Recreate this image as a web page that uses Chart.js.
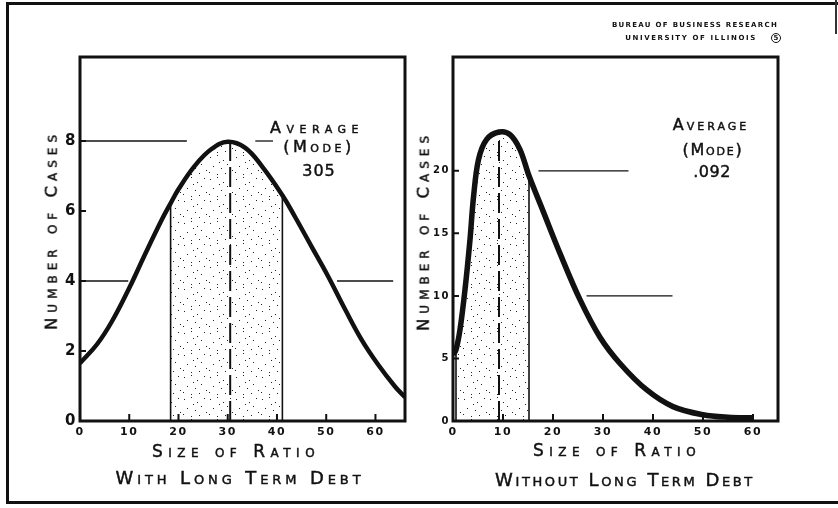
<!DOCTYPE html>
<html>
<head>
<meta charset="utf-8">
<script src="https://cdn.jsdelivr.net/npm/chart.js@4"></script>
<style>
  html, body { margin: 0; padding: 0; background: #fff; }
  body { width: 838px; height: 508px; position: relative; overflow: hidden; color: #111; font-family: "DejaVu Sans", sans-serif; }
  .frame { position: absolute; left: 6px; top: 2px; width: 850px; height: 502px; box-sizing: border-box; border: 3px solid #111; border-right: none; }
  .edge { position: absolute; left: 835px; top: 0; width: 2px; height: 34px; background: #333; }
  canvas { position: absolute; top: 0; }
  #withChart { left: 0; }
  #withoutChart { left: 410px; }
  .lbl, .vlbl { -webkit-text-stroke: 0.45px #111; }
  .lbl { position: absolute; width: 360px; margin-left: -180px; text-align: center; line-height: 1; white-space: nowrap; font-variant: small-caps; transform: translateY(-50%); }
  .vlbl { position: absolute; line-height: 1; white-space: nowrap; font-variant: small-caps; transform: translate(-50%, -50%) rotate(-90deg); }
  .head { position: absolute; width: 240px; margin-left: -120px; text-align: center; line-height: 1; white-space: nowrap; font-size: 7px; font-weight: bold; transform: translateY(-50%); }
  .circ { position: absolute; left: 771px; top: 33px; width: 8px; height: 8px; border: 1.5px solid #111; border-radius: 50%; font-size: 7px; font-weight: bold; line-height: 8px; text-align: center; }
</style>
</head>
<body>
<div class="frame"></div>
<div class="edge"></div>
<canvas id="withChart" width="420" height="508"></canvas>
<canvas id="withoutChart" width="428" height="508"></canvas>

<div class="head" style="left:695px; top:25px; letter-spacing:1.3px;">BUREAU OF BUSINESS RESEARCH</div>
<div class="head" style="left:691px; top:38px; letter-spacing:1.6px;">UNIVERSITY OF ILLINOIS</div>
<div class="circ">5</div>

<div class="vlbl" style="left:52px; top:230px; font-size:16.5px; letter-spacing:5px;">Number of Cases</div>
<div class="vlbl" style="left:424px; top:231px; font-size:16.5px; letter-spacing:5px;">Number of Cases</div>
<div class="lbl" style="left:236px; top:451px; font-size:17px; letter-spacing:5.5px;">Size of Ratio</div>
<div class="lbl" style="left:617px; top:450px; font-size:17px; letter-spacing:5.5px;">Size of Ratio</div>
<div class="lbl" style="left:240px; top:478px; font-size:18px; letter-spacing:3.9px;">With Long Term Debt</div>
<div class="lbl" style="left:625px; top:480px; font-size:18px; letter-spacing:2.6px;">Without Long Term Debt</div>

<div class="lbl" style="left:317px; top:128px; font-size:16px; letter-spacing:5.5px;">Average</div>
<div class="lbl" style="left:319px; top:147px; font-size:16px; letter-spacing:3.5px;">(Mode)</div>
<div class="lbl" style="left:319px; top:171px; font-size:16px; letter-spacing:1px;">305</div>
<div class="lbl" style="left:711px; top:125px; font-size:16px; letter-spacing:3px;">Average</div>
<div class="lbl" style="left:713px; top:150px; font-size:16px; letter-spacing:1.8px;">(Mode)</div>
<div class="lbl" style="left:712px; top:172px; font-size:16px; letter-spacing:0.5px;">.092</div>

<script>
// size of ratio (hundredths) on the x axes
var sizeTicks = [0, 10, 20, 30, 40, 50, 60];

// with long term debt
var withRatio = [0, 3.5, 6.5, 10, 13, 16.5, 18.4, 20, 23.3, 26.7, 30, 33.5, 37, 41.1, 43.6, 47, 50.4, 53.8, 57.2, 60.6, 64, 66];
var withCases = [1.65, 2.2, 2.85, 3.8, 4.7, 5.72, 6.22, 6.62, 7.29, 7.77, 7.98, 7.81, 7.27, 6.45, 5.85, 4.99, 4.13, 3.2, 2.32, 1.6, 0.98, 0.68];
var withCaseTicks = [0, 2, 4, 6, 8];
var withShade = [18.4, 41.1];
var withMode = 30.5;
// [cases, from ratio, to ratio]
var withGuides = [[8, 0.4, 21.7], [8, 35.6, 39.2], [4, 0.4, 9.8], [4, 52.2, 63.6]];

// without long term debt
var withoutRatio = [0, 0.6, 1.4, 2.4, 3.4, 4.1, 5.1, 6.7, 9.2, 11.4, 13.4, 15.2, 18, 21.4, 25.4, 29.4, 33.4, 38.7, 44, 50, 55, 60];
var withoutCases = [5.3, 5.7, 7.3, 10.5, 14.5, 17.9, 20.9, 22.5, 23.1, 22.9, 21.7, 19.6, 16.8, 13.4, 9.7, 6.7, 4.6, 2.5, 1.15, 0.5, 0.3, 0.25];
var withoutCaseTicks = [0, 5, 10, 15, 20];
var withoutShade = [0.6, 15.2];
var withoutMode = 9.2;
var withoutGuides = [[20, 17.1, 35.1], [10, 26.7, 43.9]];

var INK = "#111";

function stipple() {
  var c = document.createElement("canvas");
  c.width = 26;
  c.height = 22;
  var g = c.getContext("2d");
  g.fillStyle = "#fff";
  g.fillRect(0, 0, 26, 22);
  g.fillStyle = "#222";
  var dots = [[2, 3], [9, 1], [15, 6], [22, 2], [5, 12], [13, 14], [19, 10], [24, 16], [1, 18], [9, 20], [17, 19], [11, 8]];
  dots.forEach(function (d) { g.fillRect(d[0], d[1], 1, 1); });
  return g.createPattern(c, "repeat");
}

// spaced hand lettering for tick labels
var lettering = {
  id: "lettering",
  beforeDraw: function (chart) { chart.ctx.letterSpacing = "1.5px"; },
};

// heavy box round the plot and short ticks pointing inward
var frameAndTicks = {
  id: "frameAndTicks",
  afterDraw: function (chart) {
    var ctx = chart.ctx, a = chart.chartArea, x = chart.scales.x, y = chart.scales.y;
    ctx.save();
    ctx.strokeStyle = INK;
    ctx.lineWidth = 2;
    ctx.beginPath();
    x.ticks.forEach(function (t) {
      if (t.value > 0) {
        var px = x.getPixelForValue(t.value);
        ctx.moveTo(px, a.bottom);
        ctx.lineTo(px, a.bottom - 7);
      }
    });
    y.ticks.forEach(function (t) {
      if (t.value > 0) {
        var py = y.getPixelForValue(t.value);
        ctx.moveTo(a.left, py);
        ctx.lineTo(a.left + 6, py);
      }
    });
    ctx.stroke();
    ctx.lineWidth = 3;
    ctx.strokeRect(a.left, a.top, a.right - a.left, a.bottom - a.top);
    ctx.restore();
  },
};

function makeChart(id, o) {
  var pts = o.ratio.map(function (r, i) { return { x: r, y: o.cases[i] }; });
  var shadePts = pts.filter(function (p) { return p.x >= o.shade[0] && p.x <= o.shade[1]; });
  var peak = Math.max.apply(null, o.cases);
  var at = function (v) { return pts.filter(function (p) { return p.x === v; })[0]; };

  var datasets = [
    { data: pts, borderColor: INK, borderWidth: o.curveWidth, tension: o.tension, order: 0 },
    { data: shadePts, borderWidth: 0, backgroundColor: stipple(), fill: "origin", tension: o.tension, order: 5 },
    { data: [{ x: o.mode, y: 0 }, { x: o.mode, y: peak }], borderColor: INK, borderWidth: 2, borderDash: [20, 6], order: 3 },
  ];
  o.shade.forEach(function (v) {
    datasets.push({ data: [{ x: v, y: 0 }, at(v)], borderColor: INK, borderWidth: 1.6, order: 2 });
  });
  o.guides.forEach(function (g) {
    datasets.push({ data: [{ x: g[1], y: g[0] }, { x: g[2], y: g[0] }], borderColor: INK, borderWidth: 1.3, order: 4 });
  });

  return new Chart(document.getElementById(id), {
    type: "line",
    data: { datasets: datasets },
    plugins: [lettering, frameAndTicks],
    options: {
      responsive: false,
      animation: false,
      events: [],
      layout: { padding: { top: 57, right: o.padRight, bottom: 57, left: 0 } },
      elements: { point: { radius: 0 }, line: { fill: false } },
      plugins: { legend: { display: false }, tooltip: { enabled: false } },
      scales: {
        x: {
          type: "linear",
          min: 0,
          max: o.ratioMax,
          afterBuildTicks: function (s) { s.ticks = sizeTicks.map(function (v) { return { value: v }; }); },
          afterFit: function (s) { s.height = 30; },
          grid: { display: false, drawTicks: false },
          border: { display: false },
          ticks: { padding: 4.4, color: INK, maxRotation: 0, autoSkip: false, font: { family: "DejaVu Sans", size: 11, weight: "bold" } },
        },
        y: {
          type: "linear",
          min: 0,
          max: o.caseMax,
          afterBuildTicks: function (s) { s.ticks = o.caseTicks.map(function (v) { return { value: v }; }); },
          afterFit: function (s) { s.width = o.yWidth; },
          grid: { display: false, drawTicks: false },
          border: { display: false },
          ticks: { padding: 3, color: INK, font: o.yFont },
        },
      },
    },
  });
}

makeChart("withChart", {
  ratio: withRatio, cases: withCases, caseTicks: withCaseTicks, shade: withShade, mode: withMode, guides: withGuides,
  ratioMax: 66, caseMax: 10.4, curveWidth: 4.5, padRight: 15, yWidth: 80, tension: 0.4,
  yFont: { family: "DejaVu Sans", size: 15, weight: "bold" },
});

makeChart("withoutChart", {
  ratio: withoutRatio, cases: withoutCases, caseTicks: withoutCaseTicks, shade: withoutShade, mode: withoutMode, guides: withoutGuides,
  ratioMax: 65, caseMax: 29.1, curveWidth: 5.5, padRight: 60, yWidth: 43, tension: 0.35,
  yFont: { family: "DejaVu Sans", size: 10, weight: "bold" },
});
</script>
</body>
</html>
